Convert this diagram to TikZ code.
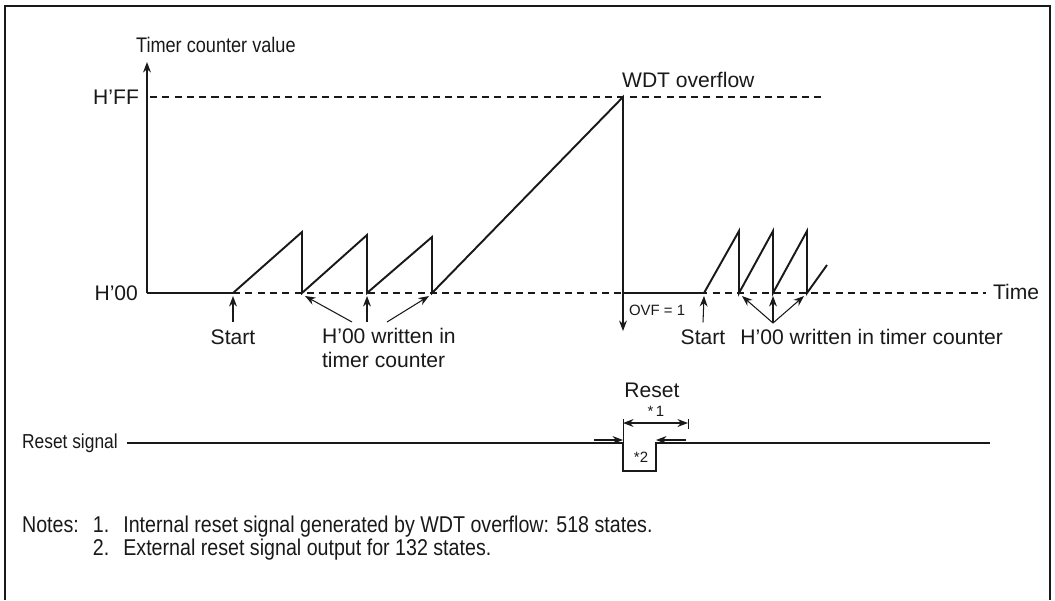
\documentclass[tikz,border=0pt]{standalone}
\usepackage{fontspec}
\setmainfont{Liberation Sans}
\newfontfamily\narrowfont[FakeStretch=0.86]{Liberation Sans}
\usetikzlibrary{arrows.meta, positioning, calc}
\usepackage{xcolor}
\definecolor{tInk}{RGB}{25, 25, 25}

\begin{document}
\begin{tikzpicture}[
    x=0.02cm, y=-0.02cm,
    font=\fontsize{12}{13.5}\selectfont,
    >={Stealth[length=6pt, width=4.5pt]},
    label/.style={inner sep=1pt, text=tInk},
    narrow/.style={inner sep=1pt, text=tInk, font=\narrowfont\fontsize{12}{13.5}\selectfont},
    small/.style={inner sep=1pt, text=tInk, font=\fontsize{8.5}{10}\selectfont},
    wave/.style={line width=1.1pt, color=tInk, line join=miter},
    signal/.style={line width=0.9pt, color=tInk},
    guide/.style={dash pattern=on 4pt off 3pt, line width=0.6pt, color=tInk},
    arrow/.style={->, line width=0.6pt, color=tInk},
    tick/.style={line width=0.5pt, color=tInk}
]

\useasboundingbox (0,0) rectangle (1055,600);
\draw[line width=1pt, color=tInk] (5,600) -- (5,6) -- (1050,6) -- (1050,600);

% Axis and levels
\coordinate (origin) at (147,293);
\coordinate (ytop) at (147,62);
\draw[arrow] (origin) -- (ytop);
\node[narrow, anchor=west] (yname) at (134,45) {Timer counter value};

\node[label, anchor=east] (hff) at (141,97) {H'FF};
\node[label, anchor=east] (h00) at (140,293) {H'00};
\node[label, anchor=west] (time) at (991,292) {Time};
\draw[guide] (150,97) -- (822,97);
\draw[guide] (147,293) -- (986,293);

% Counter value
\coordinate (go1) at (233,293);
\coordinate (r1) at (302,293);
\coordinate (r2) at (367,293);
\coordinate (r3) at (432,293);
\coordinate (ovf) at (623,293);
\coordinate (peak) at (623,97);
\coordinate (go2) at (704,293);
\coordinate (r4) at (739,293);
\coordinate (r5) at (773,293);
\coordinate (r6) at (807,293);

\draw[wave] (origin) -- (go1) -- (302,232) -- (r1) -- (367,235) -- (r2)
    -- (432,237) -- (r3) -- (peak) -- (ovf) -- (go2) -- (739,231) -- (r4)
    -- (773,231) -- (r5) -- (807,231) -- (r6) -- (827,265);

\node[label, anchor=south west] (wdt) at (620,90) {WDT overflow};

% OVF flag
\draw[arrow] (ovf) -- (623,331);
\node[small, anchor=west] (ovfflag) at (627,310) {OVF = 1};

% First run
\node[label] (start1) at (233,337) {Start};
\draw[arrow] ($(start1.north)+(0,-5)$) -- ($(go1)+(0,3)$);

\node[label, align=left, anchor=north west] (wr1) at (320,326) {H'00 written in\\timer counter};
\draw[arrow] ($(wr1.north west)+(32,-4)$) -- ($(r1)+(3,3)$);
\draw[arrow] ($(wr1.north west)+(47,-4)$) -- ($(r2)+(0,3)$);
\draw[arrow] ($(wr1.north west)+(67,-4)$) -- ($(r3)+(-3,3)$);

% Second run
\node[label] (start2) at (703,337) {Start};
\draw[arrow] ($(start2.north)+(0,-5)$) -- ($(go2)+(0,3)$);

\node[label, right=0.22cm of start2] (wr2) {H'00 written in timer counter};
\coordinate (fan) at (773,323);
\draw[arrow] (fan) -- ($(r4)+(3,3)$);
\draw[arrow] (fan) -- ($(r5)+(0,3)$);
\draw[arrow] (fan) -- ($(r6)+(-3,3)$);

% Reset
\node[label] (reset) at (652,390) {Reset};
\node[small] (star1) at (656,411) {*\,1};
\draw[tick] (623,419) -- (623,443);
\draw[tick] (688,419) -- (688,429);
\draw[<->, line width=0.6pt, color=tInk] (623,423) -- (688,423);

\node[narrow, anchor=west, font=\narrowfont\fontsize{11.5}{13}\selectfont] (rsig) at (20,443) {Reset signal};
\draw[signal] (127,443) -- (623,443) -- (623,471) -- (656,471) -- (656,443) -- (990,443);
\node[small] (star2) at (641,457) {*2};
\draw[arrow] (594,440) -- (623,440);
\draw[arrow] (686,440) -- (656,440);

% Notes
\node[narrow, anchor=west, font=\narrowfont\fontsize{13}{12.5}\selectfont] (notes) at (20,539) {%
    \begin{tabular}{@{}l@{\hspace{8pt}}l@{\hspace{8pt}}l@{}}
    Notes: & 1. & Internal reset signal generated by WDT overflow: 518 states.\\
           & 2. & External reset signal output for 132 states.
    \end{tabular}};

\end{tikzpicture}
\end{document}
